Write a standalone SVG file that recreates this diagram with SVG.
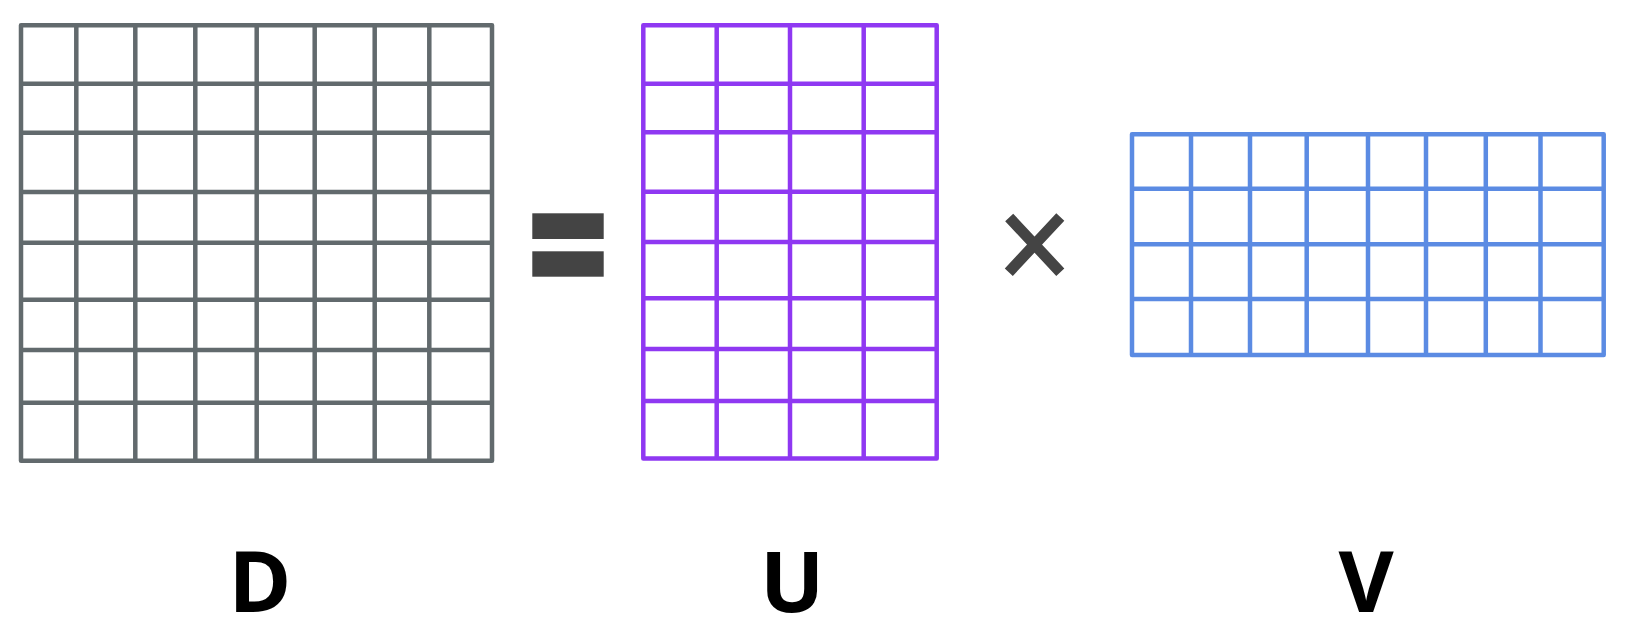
<svg xmlns="http://www.w3.org/2000/svg" width="1632" height="636" viewBox="0 0 1632 636">
<style>
.g{fill:none;stroke-width:4.5;stroke-linejoin:round;stroke-linecap:butt}
.d{stroke:#626a6d}
.u{stroke:#8f38f2}
.v{stroke:#5b8be3}
.op{fill:#444444}
.lbl{font-family:"Open Sans","Liberation Sans",sans-serif;font-weight:bold;font-size:85px;fill:#000;text-anchor:middle}
</style>
<rect width="1632" height="636" fill="#ffffff"/>
<g id="D">
<rect class="g d" x="21" y="25.3" width="471" height="435.4"/>
<path class="g d" d="M76.3 25.3V460.7M135.3 25.3V460.7M195.3 25.3V460.7M256.7 25.3V460.7M314.7 25.3V460.7M374.7 25.3V460.7M429.3 25.3V460.7M21 83.7H492M21 132.7H492M21 192H492M21 242.7H492M21 299.7H492M21 350H492M21 402.7H492"/>
<text class="lbl" x="260" y="612">D</text>
</g>
<g id="equals">
<rect class="op" x="532.3" y="213.3" width="71.4" height="25.7"/>
<rect class="op" x="532.3" y="251.3" width="71.4" height="25.4"/>
</g>
<g id="U">
<rect class="g u" x="643.3" y="25.3" width="293.4" height="433.2"/>
<path class="g u" d="M716.7 25.3V458.5M790 25.3V458.5M863.7 25.3V458.5M643.3 83.7H936.7M643.3 132.3H936.7M643.3 191.7H936.7M643.3 242H936.7M643.3 298.3H936.7M643.3 349H936.7M643.3 401H936.7"/>
<text class="lbl" x="792" y="612">U</text>
</g>
<g id="times">
<path d="M1009.2 217.5L1060.3 272.2M1060.3 217L1008.8 272.2" stroke="#444444" stroke-width="11" fill="none"/>
</g>
<g id="V">
<rect class="g v" x="1132" y="134.3" width="471.7" height="220.7"/>
<path class="g v" d="M1191 134.3V355M1250 134.3V355M1306.7 134.3V355M1368 134.3V355M1426 134.3V355M1485.8 134.3V355M1540.5 134.3V355M1132 188.7H1603.7M1132 244.3H1603.7M1132 299H1603.7"/>
<text class="lbl" x="1366" y="612">V</text>
</g>
<g id="connectors"/>
</svg>
